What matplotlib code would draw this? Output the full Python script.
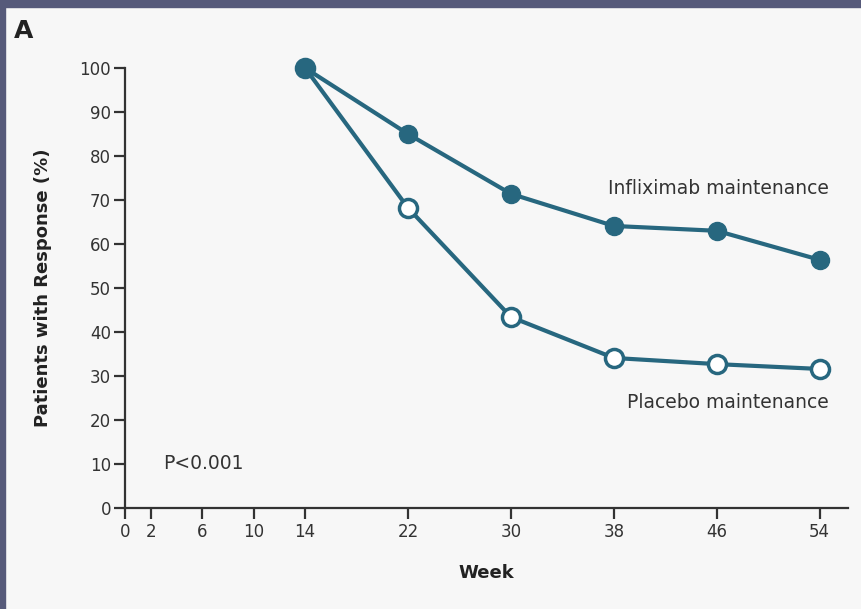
import matplotlib
matplotlib.use("Agg")
import matplotlib.pyplot as plt
from matplotlib.patches import Rectangle

weeks = [14, 22, 30, 38, 46, 54]
infliximab = [100, 85, 71.4, 64.1, 63.0, 56.4]
placebo = [100, 68.2, 43.4, 34.1, 32.7, 31.6]
xticks = [0, 2, 6, 10, 14, 22, 30, 38, 46, 54]
yticks = list(range(0, 101, 10))

plt.rcParams['font.family'] = ['DejaVu Sans']
W, H = 862, 609
fig = plt.figure(figsize=(W / 100, H / 100), dpi=100)
fig.patch.set_facecolor('#f7f7f7')
# border
fig.patches.append(Rectangle((0, 1 - 7 / H), 1, 7 / H, transform=fig.transFigure, color='#565a7a', zorder=0))
fig.patches.append(Rectangle((0, 0), 5 / W, 1, transform=fig.transFigure, color='#565a7a', zorder=0))

ax = fig.add_axes([125 / W, 101 / H, 723 / W, 440 / H])
ax.set_facecolor('#f7f7f7')
col = '#27677f'
ax.plot(weeks, placebo, color=col, lw=3, marker='o', ms=13, mfc='white', mec=col, mew=2.5, clip_on=False, zorder=3)
ax.plot(weeks, infliximab, color=col, lw=3, marker='o', ms=13, mfc=col, mec=col, clip_on=False, zorder=4)

ax.set_xlim(0, 56.2)
ax.set_ylim(0, 100)
ax.set_xticks(xticks)
ax.set_yticks(yticks)
for s in ['top', 'right']:
    ax.spines[s].set_visible(False)
for s in ['left', 'bottom']:
    ax.spines[s].set_linewidth(1.6)
    ax.spines[s].set_color('#333333')
ax.tick_params(direction='out', length=8, width=1.6, color='#333333', labelsize=12, labelcolor='#333333')
ax.tick_params(axis='y', pad=2)
ax.tick_params(axis='x', pad=3)

fs = 13.5
ax.text(54.7, 72.7, 'Infliximab maintenance', ha='right', va='center', fontsize=fs, color='#333333')
ax.text(54.7, 23.9, 'Placebo maintenance', ha='right', va='center', fontsize=fs, color='#333333')
ax.text(2.95, 10.2, 'P<0.001', ha='left', va='center', fontsize=fs, color='#333333')

ax.set_ylabel('Patients with Response (%)', fontsize=13, fontweight='bold', color='#222222', labelpad=20)
ax.set_xlabel('Week', fontsize=13, fontweight='bold', color='#222222', labelpad=16)
fig.text(14 / W, 1 - 31 / H, 'A', fontsize=18, fontweight='bold', color='#222222', va='center', ha='left')

fig.savefig('out.png', dpi=100, facecolor=fig.get_facecolor())
